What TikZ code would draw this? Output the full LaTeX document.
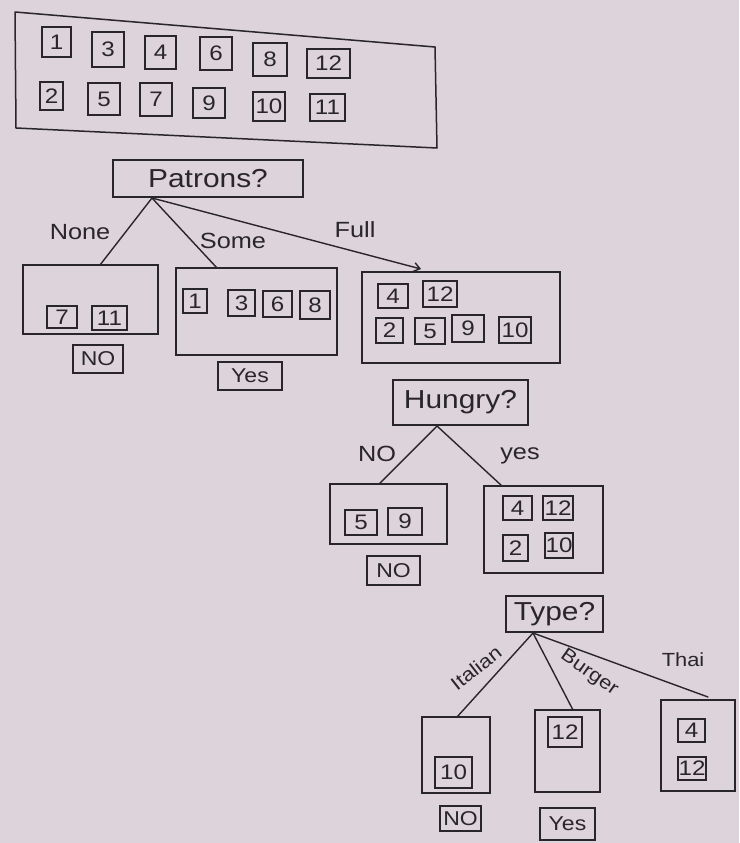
\documentclass[tikz,border=0pt]{standalone}
\usepackage{fontspec}
\setmainfont[FakeStretch=1.15]{Liberation Sans}
\usetikzlibrary{arrows.meta}
\definecolor{paper}{RGB}{221,211,219}
\definecolor{inkc}{RGB}{40,38,40}
\newcommand{\mybox}[7]{\node[#6, minimum width={(#4-#2)*1pt}, minimum height={(#5-#3)*1pt}] (#1) at ({(#2+#4)/2},{(#3+#5)/2}) {#7};}
\tikzset{
  ink/.style={draw=inkc, line width=1.5pt, text=inkc},
  num/.style={ink, rectangle, inner sep=0pt, font=\fontsize{21}{22}\selectfont},
  bigbox/.style={ink, rectangle, inner sep=0pt},
  qbox/.style={ink, rectangle, inner sep=0pt, font=\fontsize{26}{28}\selectfont},
  leaf/.style={ink, rectangle, inner sep=0pt, font=\fontsize{20}{22}\selectfont},
  lbl/.style={text=inkc, inner sep=0pt, font=\fontsize{22}{24}\selectfont},
  slbl/.style={text=inkc, inner sep=0pt, font=\fontsize{19}{21}\selectfont},
  conn/.style={draw=inkc, line width=1.4pt, line cap=round},
}
\begin{document}
\begin{tikzpicture}[x=1pt,y=-1pt]
\fill[paper] (0,0) rectangle (739,843);
\useasboundingbox (0,0) rectangle (739,843);
% top frame
\draw[ink, line join=round] (15,12) -- (435,47) -- (437,148) -- (16,128) -- cycle;
\mybox{t1}{42}{27}{71}{57}{num}{1}
\mybox{t3}{92}{32}{124}{67}{num}{3}
\mybox{t4}{145}{36}{176}{69}{num}{4}
\mybox{t6}{200}{37}{232}{70}{num}{6}
\mybox{t8}{253}{43}{287}{76}{num}{8}
\mybox{t12}{307}{49}{350}{78}{num}{12}
\mybox{t2}{40}{82}{63}{110}{num}{2}
\mybox{t5}{88}{83}{120}{115}{num}{5}
\mybox{t7}{140}{83}{172}{116}{num}{7}
\mybox{t9}{193}{88}{225}{118}{num}{9}
\mybox{t10}{253}{92}{285}{121}{num}{10}
\mybox{t11}{310}{94}{345}{121}{num}{11}
% Patrons
\mybox{pat}{113}{160}{303}{197}{qbox}{Patrons?}
\mybox{none}{23}{265}{158}{334}{bigbox}{}
\mybox{n7}{47}{306}{77}{328}{num}{7}
\mybox{n11}{92}{306}{127}{330}{num}{11}
\mybox{no1}{73}{345}{123}{373}{leaf}{NO}
\mybox{some}{176}{268}{337}{355}{bigbox}{}
\mybox{s1}{183}{289}{207}{313}{num}{1}
\mybox{s3}{228}{290}{255}{316}{num}{3}
\mybox{s6}{263}{291}{292}{317}{num}{6}
\mybox{s8}{300}{291}{330}{319}{num}{8}
\mybox{yes1}{218}{362}{282}{390}{leaf}{Yes}
\mybox{full}{362}{272}{560}{363}{bigbox}{}
\mybox{f4}{378}{284}{408}{308}{num}{4}
\mybox{f12}{423}{281}{457}{307}{num}{12}
\mybox{f2}{376}{318}{403}{343}{num}{2}
\mybox{f5}{415}{318}{445}{344}{num}{5}
\mybox{f9}{452}{315}{484}{342}{num}{9}
\mybox{f10}{499}{317}{531}{343}{num}{10}
\coordinate (pS) at (152,198);
\coordinate (noneT) at (100,265);
\coordinate (someT) at (217,268);
\coordinate (fullT) at (421,269);
\draw[conn] (pS) -- (noneT);
\draw[conn] (pS) -- (someT);
\draw[conn, -{Straight Barb[length=6pt,width=9pt]}] (pS) -- (fullT);
\node[lbl] (lnone) at (80,232) {None};
\node[lbl] (lsome) at (233,241) {Some};
\node[lbl] (lfull) at (355,230) {Full};
% Hungry
\mybox{hun}{393}{380}{528}{425}{qbox}{Hungry?}
\mybox{hno}{330}{484}{447}{544}{bigbox}{}
\mybox{h5}{345}{510}{377}{535}{num}{5}
\mybox{h9}{388}{508}{422}{535}{num}{9}
\mybox{no2}{367}{556}{420}{585}{leaf}{NO}
\mybox{hyes}{484}{486}{603}{573}{bigbox}{}
\mybox{y4}{503}{496}{532}{520}{num}{4}
\mybox{y12}{543}{496}{573}{520}{num}{12}
\mybox{y2}{503}{535}{528}{561}{num}{2}
\mybox{y10}{545}{533}{573}{558}{num}{10}
\coordinate (hS) at (437,426);
\coordinate (hnT) at (379,484);
\coordinate (hyT) at (502,486);
\draw[conn] (hS) -- (hnT);
\draw[conn] (hS) -- (hyT);
\node[lbl] (lhno) at (377,454) {NO};
\node[lbl] (lhyes) at (520,456) {yes};
% Type
\mybox{typ}{506}{596}{603}{632}{qbox}{Type?}
\mybox{ital}{422}{717}{490}{793}{bigbox}{}
\mybox{i10}{435}{757}{472}{788}{num}{10}
\mybox{burg}{535}{710}{600}{792}{bigbox}{}
\mybox{b12}{548}{717}{582}{747}{num}{12}
\mybox{thai}{661}{700}{735}{791}{bigbox}{}
\mybox{th4}{678}{719}{705}{742}{num}{4}
\mybox{th12}{678}{757}{706}{780}{num}{12}
\mybox{no3}{440}{806}{481}{831}{leaf}{NO}
\mybox{yes3}{540}{808}{595}{840}{leaf}{Yes}
\coordinate (tS) at (533,633);
\coordinate (itT) at (457,717);
\coordinate (buT) at (573,710);
\coordinate (thT) at (708,697);
\draw[conn] (tS) -- (itT);
\draw[conn] (tS) -- (buT);
\draw[conn] (tS) -- (thT);
\node[slbl, rotate=38] (lital) at (476,668) {Italian};
\node[slbl, rotate=-35] (lburg) at (589,673) {Burger};
\node[slbl] (lthai) at (683,660) {Thai};
\end{tikzpicture}
\end{document}
